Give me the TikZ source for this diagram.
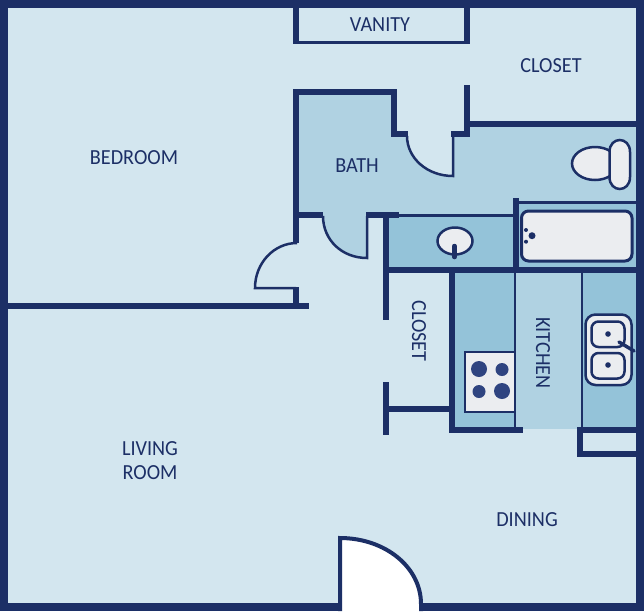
\documentclass[tikz,border=0pt]{standalone}
\usepackage{fontspec}
\setmainfont[FakeStretch=0.94]{Carlito}
\definecolor{roomblue}{HTML}{D3E6EF}
\definecolor{bathblue}{HTML}{B0D2E2}
\definecolor{counterblue}{HTML}{94C3D9}
\definecolor{navy}{HTML}{1C2F66}
\definecolor{burner}{HTML}{2F4480}
\definecolor{fixture}{HTML}{EBEDF0}
\tikzset{
    wall/.style={draw=navy,line width=6pt},
    thinwall/.style={draw=navy,line width=2.5pt},
    fixturebox/.style={draw=navy,fill=fixture,line width=2.5pt},
    roomlabel/.style={text=navy,font=\fontsize{21.5}{24}\selectfont,align=center,inner sep=0pt},
}
\begin{document}
\begin{tikzpicture}[x=1pt,y=-1pt]
    \useasboundingbox (0,0) rectangle (644,611);
    \fill[roomblue] (0,0) rectangle (644,611);
    % floor colours
    \fill[bathblue] (296,91) -- (393,91) -- (393,134) -- (407,134) .. controls (407,158) and (427,176) .. (452,176) -- (452,134) -- (466,134) -- (466,124) -- (638,124) -- (638,202) -- (516,202) -- (516,215) -- (366,215) -- (366,258) .. controls (342,258) and (323,240) .. (323,215) -- (296,215) -- cycle;
    \fill[counterblue] (386,215) rectangle (516,270);
    \fill[counterblue] (516,202) rectangle (638,270);
    \fill[counterblue] (452,270) rectangle (516,429);
    \fill[bathblue] (516,270) rectangle (582,429);
    \fill[counterblue] (582,270) rectangle (638,429);
    % outer walls and entry door
    \draw[wall,line width=8pt] (4,4) rectangle (640,607);
    \path[fill=white,draw=navy,line width=4pt] (340,611) -- (340,538) .. controls (385,538) and (421,567) .. (421,604) -- (421,611);
    % vanity and closet
    \draw[wall] (296,8) -- (296,42.5);
    \draw[wall] (466.5,8) -- (466.5,44);
    \draw[thinwall,line width=3pt] (293,42.5) -- (469,42.5);
    \draw[wall] (466.5,85) -- (466.5,134) -- (451,134);
    \draw[wall] (464,124) -- (636,124);
    % bath walls
    \draw[wall] (296,243) -- (296,91.5) -- (393.5,91.5) -- (393.5,134) -- (408,134);
    \draw[thinwall] (407,136) .. controls (407,158) and (427,176) .. (453,176) -- (453,135);
    \draw[wall] (296,214.5) -- (323,214.5);
    \draw[wall] (366,214.5) -- (399,214.5);
    \draw[thinwall] (323,216) .. controls (323,240) and (342,258) .. (367,258) -- (367,216);
    \draw[thinwall] (388,215.5) -- (513,215.5);
    \draw[wall] (516,198) -- (516,270);
    \draw[thinwall,line width=3pt] (516,202) -- (636,202);
    % bedroom door and wall
    \draw[thinwall] (297,243) .. controls (274,243) and (255,263) .. (255,288) -- (296,288);
    \draw[wall] (296,287) -- (296,306);
    \draw[wall] (8,305.75) -- (309,305.75);
    % closet and kitchen walls
    \draw[wall] (385.5,212) -- (385.5,320);
    \draw[wall] (384,269.5) -- (636,269.5);
    \draw[wall] (385.5,382) -- (385.5,435);
    \draw[wall] (385.5,408.5) -- (452,408.5);
    \draw[wall] (452,270) -- (452,429.5) -- (523,429.5);
    \draw[thinwall] (515,270) -- (515,427);
    \draw[thinwall] (582,270) -- (582,427);
    \draw[wall] (636,429.5) -- (579.5,429.5) -- (579.5,453.5) -- (636,453.5);
    % toilet
    \draw[fixturebox] (595,163.5) ellipse [x radius=23,y radius=16.5];
    \draw[fixturebox] (609.5,152) .. controls (609.5,136) and (630,136) .. (630,152) -- (630,177) .. controls (630,193) and (609.5,193) .. (609.5,177) -- cycle;
    % tub
    \draw[fixturebox,line width=3pt,rounded corners=7pt] (521.5,211) rectangle (632,261);
    \fill[navy] (526,230) circle (2) (526,241.7) circle (2) (532,235.7) circle (3.5);
    % bath sink
    \draw[fixturebox] (455,241) ellipse [x radius=17.5,y radius=13.5];
    \draw[navy,line width=4.5pt,line cap=round] (454.5,246) -- (454.5,257);
    % stove
    \draw[fixturebox,line width=2pt] (465,351.5) rectangle (515,411.5);
    \fill[burner] (479,369) circle (8) (502,369.5) circle (6.5) (479,391.5) circle (6.5) (502,391) circle (8);
    % kitchen sink
    \draw[fixturebox,rounded corners=10pt] (585.5,314.5) rectangle (631.5,385);
    \draw[fixturebox,rounded corners=7pt] (591.5,321.5) rectangle (624.5,347);
    \draw[fixturebox,rounded corners=7pt] (591.5,353) rectangle (624.5,378.5);
    \fill[navy] (608,334) circle (2.8) (608,365) circle (2.8);
    \draw[navy,line width=3.5pt,line cap=round] (619,342) -- (634,351);
    % labels
    \node[roomlabel] (vanity) at (380,25) {VANITY};
    \node[roomlabel] (walkin) at (551,66) {CLOSET};
    \node[roomlabel] (bedroom) at (134,158) {BEDROOM};
    \node[roomlabel] (bath) at (357,166) {BATH};
    \node[roomlabel,rotate=-90] (closet) at (419,331) {CLOSET};
    \node[roomlabel,rotate=-90] (kitchen) at (543,353) {KITCHEN};
    \node[roomlabel] (living) at (150,461) {LIVING\\ROOM};
    \node[roomlabel] (dining) at (527,520) {DINING};
\end{tikzpicture}
\end{document}
